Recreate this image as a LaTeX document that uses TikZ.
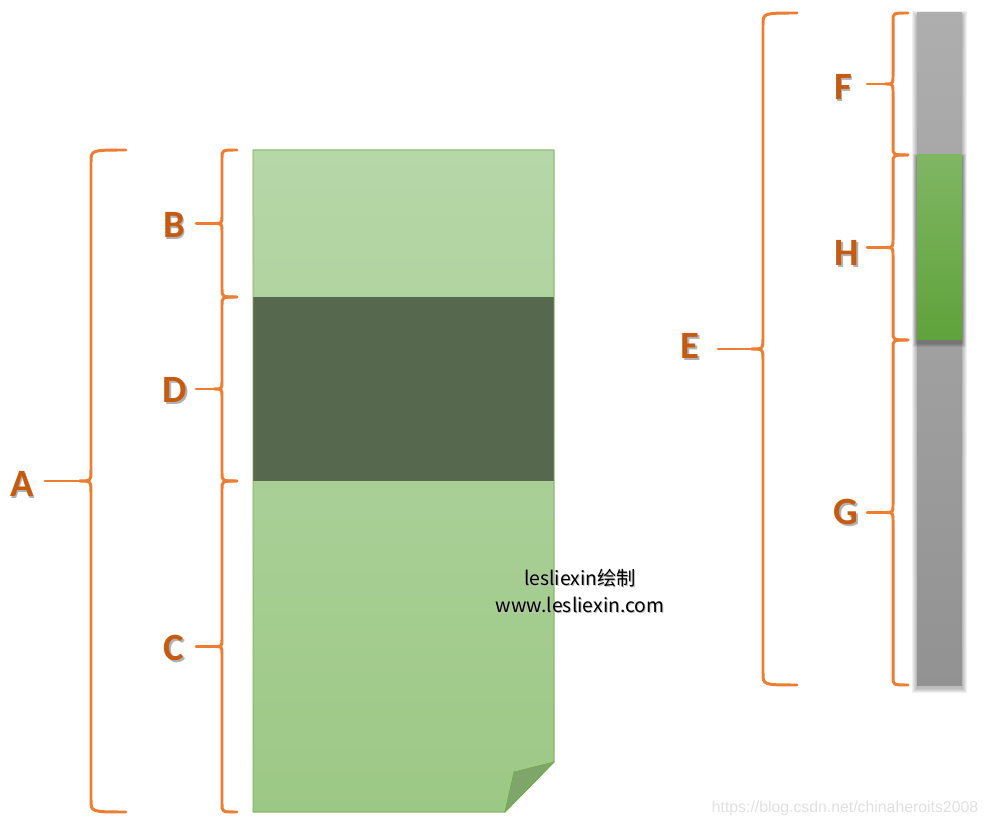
\documentclass[tikz,border=0pt]{standalone}
\usepackage{fontspec}
\setmainfont{Carlito}
\newfontfamily\cjkfont{Noto Sans CJK SC}
\newfontfamily\linkfont{Liberation Sans}
\usetikzlibrary{positioning,calc}

\definecolor{braceorange}{HTML}{ED7D31}
\definecolor{labelorange}{HTML}{C55A11}
\definecolor{pagetop}{HTML}{B6D7A8}
\definecolor{pagebottom}{HTML}{9CC885}
\definecolor{pageedge}{HTML}{70AD47}
\definecolor{bandgreen}{HTML}{56694F}
\definecolor{foldgreen}{HTML}{7FA66A}
\definecolor{trackgray}{HTML}{AEAEAE}
\definecolor{trackdark}{HTML}{929292}
\definecolor{thumbtop}{HTML}{7FB663}
\definecolor{thumbbottom}{HTML}{5FA23A}

\tikzset{
  brace line/.style={draw=braceorange, line width=1.7pt, line cap=round},
  part label/.style={font=\bfseries\fontsize{22}{22}\selectfont, text=labelorange, inner sep=2pt},
  label shadow/.style={font=\bfseries\fontsize{22}{22}\selectfont, text=black!30, inner sep=2pt},
}

\begin{document}
\begin{tikzpicture}[x=0.02cm, y=-0.02cm]
\useasboundingbox (0,0) rectangle (988,827);
%
    % the page
    \fill[top color=pagetop, bottom color=pagebottom]
      (253,150) -- (554,150) -- (554,762) -- (505,812) -- (253,812) -- cycle;
    \fill[bandgreen] (253,297) rectangle (554,481);
    \draw[pageedge, line width=0.5pt]
      (253,150) -- (554,150) -- (554,762) -- (505,812) -- (253,812) -- cycle;
    \filldraw[fill=foldgreen, draw=pageedge, line width=0.4pt]
      (554,762) -- (514,772) -- (505,812) -- cycle;
%
    % the scroll bar
    \foreach \s in {5,4,3,2,1}
      \fill[black, opacity=0.06] (917-\s,13-\s+3) rectangle (962+\s,685+\s+3);
    \fill[top color=trackgray, bottom color=trackdark] (917,13) rectangle (962,685);
    \foreach \s in {4,3,2,1}
      \fill[black, opacity=0.07] (917-\s,155-\s+3) rectangle (962+\s,340+\s+3);
    \fill[top color=thumbtop, bottom color=thumbbottom] (917,155) rectangle (962,340);
%
    % braces: name / vertical / ends / stem start / top / bottom / curl / label x / label y
    \foreach \n/\xv/\xr/\xt/\yt/\yb/\k/\lx/\ly in {
        A/91/126/45/150/812/12/22/484,
        B/222/237/196/150/297/8/174/225,
        D/222/237/196/297/481/8/175/390,
        C/222/237/196/481/812/8/174/648,
        E/763/797/718/13/685/12/690/346,
        F/893/908/867/13/155/8/843/87,
        H/893/908/867/155/340/8/847/253,
        G/893/908/867/340/685/8/846/512} {
      \pgfmathsetmacro\ym{(\yt+\yb)/2}
      \draw[brace line] (\xr,\yt) .. controls (\xv,\yt) .. (\xv,\yt+\k)
        -- (\xv,\ym-\k) .. controls (\xv,\ym) .. (\xv-\k,\ym)
        .. controls (\xv,\ym) .. (\xv,\ym+\k)
        -- (\xv,\yb-\k) .. controls (\xv,\yb) .. (\xr,\yb);
      \coordinate (tip\n) at (\xv-\k,\ym);
      \coordinate (stem\n) at (\xt,\ym);
      \draw[brace line] (stem\n) -- (tip\n);
      \node[label shadow] at (\lx+1.5,\ly+1.5) {\n};
      \node[part label] (lab\n) at (\lx,\ly) {\n};
    }
%
    % watermarks
    \node[font=\cjkfont\fontsize{11}{13}\selectfont, text=black!25] at (581,579) {lesliexin绘制};
    \node[font=\cjkfont\fontsize{11}{13}\selectfont] (mark1) at (580,578) {lesliexin绘制};
    \node[font=\cjkfont\fontsize{11}{13}\selectfont, text=black!25] at (581,606) {www.lesliexin.com};
    \node[font=\cjkfont\fontsize{11}{13}\selectfont] (mark2) at (580,605) {www.lesliexin.com};
    \node[font=\linkfont\fontsize{9}{11}\selectfont, text=black!12] (link) at (845,808)
      {https://blog.csdn.net/chinaheroits2008};
  \end{tikzpicture}
\end{document}
